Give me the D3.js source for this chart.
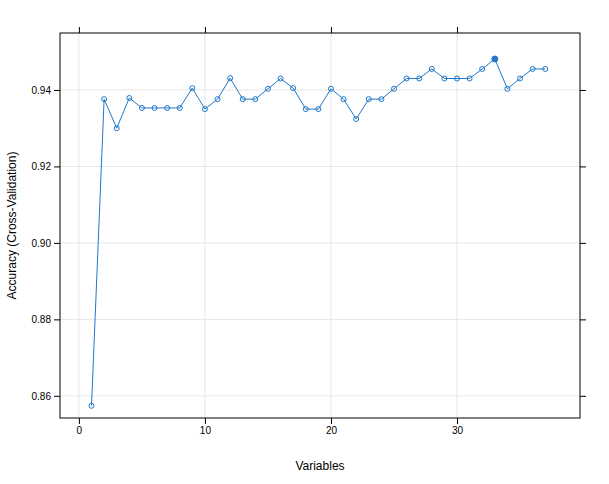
<!DOCTYPE html>
<html><head><meta charset="utf-8">
<script src="https://cdn.jsdelivr.net/npm/d3@7"></script>
<style>body{margin:0;background:#fff;font-family:"Liberation Sans",Arial,sans-serif}</style>
</head><body><div id="chart"></div>
<script>
var variables = d3.range(1, 38);
var accuracy = [0.8574,0.9376,0.9300,0.9379,0.9353,0.9353,0.9353,0.9353,0.9405,0.9350,
  0.9376,0.9431,0.9376,0.9376,0.9403,0.9430,0.9405,0.9350,0.9350,0.9403,
  0.9376,0.9324,0.9376,0.9376,0.9403,0.9430,0.9430,0.9455,0.9430,0.9430,
  0.9430,0.9455,0.9481,0.9403,0.9430,0.9455,0.9455];
var best = 33;
var xTicks = [0, 10, 20, 30];
var yTicks = [0.86, 0.88, 0.90, 0.92, 0.94];
var col = "#1f78c8";

var W = 609, H = 484, m = {l: 60, r: 29, t: 33, b: 66};
var svg = d3.select("#chart").append("svg").attr("width", W).attr("height", H);
var x = d3.scaleLinear().domain([-1.5, 39.76]).range([m.l, W - m.r]);
var y = d3.scaleLinear().domain([0.8542, 0.9549]).range([H - m.b, m.t]);

// grid
svg.selectAll("line.gx").data(xTicks).enter().append("line")
  .attr("x1", d => x(d)).attr("x2", d => x(d)).attr("y1", m.t).attr("y2", H - m.b)
  .style("stroke", "#e6e6e6");
svg.selectAll("line.gy").data(yTicks).enter().append("line")
  .attr("y1", d => y(d)).attr("y2", d => y(d)).attr("x1", m.l).attr("x2", W - m.r)
  .style("stroke", "#e6e6e6");

function ax(g, axis) { g.call(axis); g.select(".domain").remove();
  g.selectAll("text").style("font-size", "10px").style("fill", "#000"); }
svg.append("g").attr("transform", "translate(0," + (H - m.b) + ")")
  .call(g => ax(g, d3.axisBottom(x).tickValues(xTicks).tickSize(6)));
svg.append("g").attr("transform", "translate(0," + m.t + ")")
  .call(g => ax(g, d3.axisTop(x).tickValues(xTicks).tickSize(6).tickFormat("")));
svg.append("g").attr("transform", "translate(" + m.l + ",0)")
  .call(g => ax(g, d3.axisLeft(y).tickValues(yTicks).tickSize(6).tickFormat(d3.format(".2f"))));
svg.append("g").attr("transform", "translate(" + (W - m.r) + ",0)")
  .call(g => ax(g, d3.axisRight(y).tickValues(yTicks).tickSize(6).tickFormat("")));

svg.append("rect").attr("x", m.l).attr("y", m.t)
  .attr("width", W - m.l - m.r).attr("height", H - m.t - m.b)
  .style("fill", "none").style("stroke", "#000");

var data = variables.map((v, i) => ({v: v, a: accuracy[i]}));
svg.append("path").datum(data)
  .attr("d", d3.line().x(d => x(d.v)).y(d => y(d.a)))
  .style("fill", "none").style("stroke", col).style("stroke-width", 1);
svg.selectAll("circle").data(data).enter().append("circle")
  .attr("cx", d => x(d.v)).attr("cy", d => y(d.a)).attr("r", d => d.v === best ? 3 : 2.5)
  .style("fill", d => d.v === best ? col : "none")
  .style("stroke", col).style("stroke-width", 1);

svg.append("text").attr("x", (m.l + W - m.r) / 2).attr("y", H - 14)
  .attr("text-anchor", "middle").style("font-size", "12px").text("Variables");
svg.append("text").attr("transform", "translate(16," + ((m.t + H - m.b) / 2) + ") rotate(-90)")
  .attr("text-anchor", "middle").style("font-size", "12px").text("Accuracy (Cross-Validation)");
</script></body></html>
